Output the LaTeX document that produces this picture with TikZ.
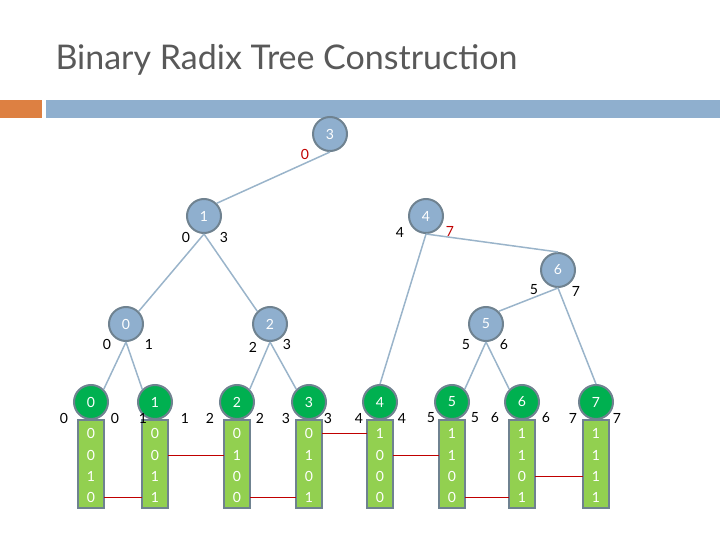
\documentclass[tikz,border=0pt]{standalone}
\usepackage{fontspec}
\setmainfont{Lato}
\begin{document}
\begin{tikzpicture}[x=1pt,y=-1pt,
  inner/.style={circle,draw=nb,line width=2pt,fill=nf,minimum size=34pt,inner sep=0pt,text=white,font=\fontsize{14}{14}\selectfont},
  leaf/.style={circle,draw=nb,line width=2pt,fill=lf,minimum size=34pt,inner sep=0pt,text=white,font=\fontsize{14}{14}\selectfont},
  bits/.style={draw=nb,line width=2pt,fill=bf,minimum width=26pt,minimum height=88pt,inner sep=0pt,anchor=north},
  bit/.style={text=white,font=\fontsize{14}{14}\selectfont},
  lab/.style={font=\fontsize{14}{14}\selectfont},
  red/.style={lab,text=rl},
  edge/.style={draw=ec,line width=1.5pt},
  link/.style={draw=rl,line width=0.8pt}]
\definecolor{nb}{HTML}{6F8290}
\definecolor{nf}{HTML}{8FAFCE}
\definecolor{lf}{HTML}{00B050}
\definecolor{bf}{HTML}{92D050}
\definecolor{ec}{HTML}{9AB4CA}
\definecolor{rl}{HTML}{C00000}
\useasboundingbox (0,0) rectangle (720,540);
\node[anchor=west,text=black!65,font=\fontsize{34}{34}\selectfont] (title) at (52,60) {Binary Radix Tree Construction};
\fill[fill={rgb,255:red,221;green,128;blue,66}] (0,100) rectangle (42,118);
\fill[fill=nf] (46,100) rectangle (720,118);
% leaves
\foreach \i/\x/\a/\b/\c/\d in {0/91/0/0/1/0,1/155/0/0/1/1,2/237/0/1/0/0,3/309/0/1/0/1,4/380/1/0/0/0,5/452/1/1/0/0,6/522/1/1/0/1,7/596/1/1/1/1}{
  \node[bits] (r\i) at (\x,419) {};
  \node[bit] (r\i a) at (\x,433) {\a};
  \node[bit] (r\i b) at (\x,455) {\b};
  \node[bit] (r\i c) at (\x,476) {\c};
  \node[bit] (r\i d) at (\x,497) {\d};
  \node[leaf] (L\i) at (\x,402) {\i};
}
% internal
\node[inner] (n3) at (330,134) {3};
\node[inner] (n1) at (204,216) {1};
\node[inner] (n4) at (426,216) {4};
\node[inner] (n6) at (558,270) {6};
\node[inner] (n0) at (126,324) {0};
\node[inner] (n2) at (270,324) {2};
\node[inner] (n5) at (486,324) {5};
\begin{scope}[on background layer/.style={}]
\end{scope}
% edges (drawn then nodes redrawn on top via shortening)
\draw[edge] (n3.south) -- (n1.north east);
\draw[edge] (n1.south) -- (n0.north east);
\draw[edge] (n1.south) -- (n2.north west);
\draw[edge] (n4.south) -- (n6.north);
\draw[edge] (n4.south) -- (L4.north);
\draw[edge] (n6.south) -- (n5.north east);
\draw[edge] (n6.south) -- (L7.north);
\draw[edge] (n0.south) -- (L0.north east);
\draw[edge] (n0.south) -- (L1.north west);
\draw[edge] (n2.south) -- (L2.north east);
\draw[edge] (n2.south) -- (L3.north west);
\draw[edge] (n5.south) -- (L5.north east);
\draw[edge] (n5.south) -- (L6.north west);
% links
\draw[link] (r0d.center) ++(13,0) -- ([xshift=-13pt]r1d.center);
\draw[link] ([xshift=13pt]r1b.center) -- ([xshift=-13pt]r2b.center);
\draw[link] ([xshift=13pt]r2d.center) -- ([xshift=-13pt]r3d.center);
\draw[link] ([xshift=13pt]r3a.center) -- ([xshift=-13pt]r4a.center);
\draw[link] ([xshift=13pt]r4b.center) -- ([xshift=-13pt]r5b.center);
\draw[link] ([xshift=13pt]r5d.center) -- ([xshift=-13pt]r6d.center);
\draw[link] ([xshift=13pt]r6c.center) -- ([xshift=-13pt]r7c.center);
% labels
\node[red] (t0) at (305,154) {0};
\node[lab] (t1a) at (186,237) {0};
\node[lab] (t1b) at (224,237) {3};
\node[lab] (t4a) at (400,232) {4};
\node[red] (t4b) at (450,231) {7};
\node[lab] (t6a) at (534,290) {5};
\node[lab] (t6b) at (576,291) {7};
\node[lab] (t0a) at (107,344) {0};
\node[lab] (t0b) at (149,344) {1};
\node[lab] (t2a) at (253,347) {2};
\node[lab] (t2b) at (287,344) {3};
\node[lab] (t5a) at (466,345) {5};
\node[lab] (t5b) at (504,345) {6};
\foreach \i/\p/\q in {0/64/115,1/143/185,2/210/260,3/286/328,4/359/402,5/431/475,6/495/546,7/573/617}{
  \node[lab] (la\i) at (\p,418) {\i};
  \node[lab] (lb\i) at (\q,418) {\i};
}
\end{tikzpicture}
\end{document}
